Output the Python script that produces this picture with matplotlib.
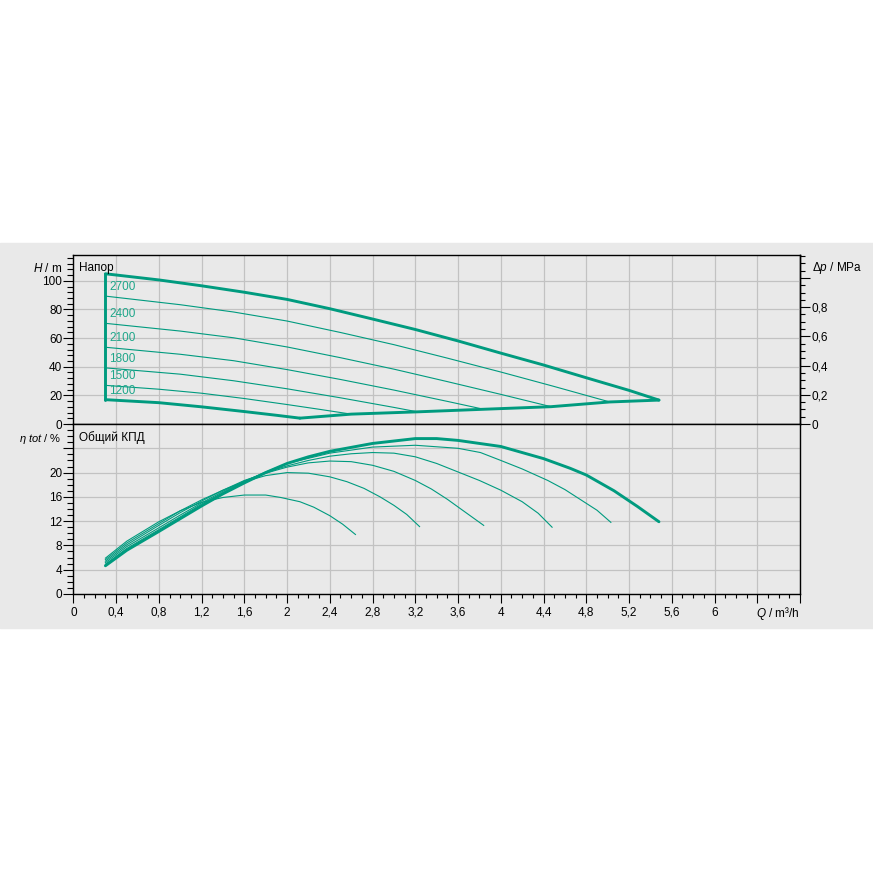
import matplotlib
matplotlib.use('Agg')
import matplotlib.pyplot as plt
from matplotlib import ticker
from matplotlib.patches import Rectangle

plt.rcParams['font.family'] = ['Liberation Sans', 'DejaVu Sans']
plt.rcParams['mathtext.fontset'] = 'custom'
plt.rcParams['mathtext.rm'] = 'Liberation Sans'
plt.rcParams['mathtext.it'] = 'Liberation Sans:italic'

TEAL = '#009b7f'
GRID = '#c2c2c2'
BG = '#e9e9e9'

# --- head curves (Q in m3/h, H in m) ---
q_max = [0.3, 0.8, 1.2, 1.6, 2.0, 2.4, 2.8, 3.2, 3.6, 4.0, 4.4, 4.8, 5.2, 5.48]
h_max = [104.9, 100.6, 96.5, 92.0, 87.0, 80.5, 73.3, 66.0, 58.0, 49.5, 41.2, 32.3, 23.5, 16.7]

speeds = ['2700', '2400', '2100', '1800', '1500']
q_2700 = [0.3, 1.0, 1.5, 2.0, 2.5, 3.0, 3.5, 4.0, 4.5, 5.02]
h_2700 = [89.3, 83.3, 78.2, 71.9, 63.9, 55.4, 46.0, 36.3, 26.2, 15.4]
q_2400 = [0.3, 1.0, 1.5, 2.0, 2.5, 3.0, 3.5, 4.0, 4.47]
h_2400 = [70.3, 64.9, 60.2, 53.8, 46.3, 38.3, 29.6, 20.7, 12.1]
q_2100 = [0.3, 1.0, 1.5, 2.0, 2.5, 3.0, 3.5, 3.84]
h_2100 = [53.6, 48.7, 44.2, 38.0, 31.1, 23.7, 15.8, 10.3]
q_1800 = [0.3, 1.0, 1.5, 2.0, 2.5, 3.0, 3.22]
h_1800 = [39.2, 34.8, 30.2, 24.6, 18.3, 11.6, 8.5]
q_1500 = [0.3, 0.8, 1.2, 1.6, 2.0, 2.3, 2.6]
h_1500 = [27.0, 24.3, 21.5, 17.8, 13.6, 10.3, 6.9]
q_1200 = [0.3, 0.8, 1.2, 1.6, 1.9, 2.12]
h_1200 = [17.0, 14.9, 12.0, 8.7, 6.1, 4.1]

# end-point boundary
q_end = [2.12, 2.6, 3.22, 3.84, 4.47, 5.02, 5.48]
h_end = [4.1, 6.9, 8.5, 10.3, 12.1, 15.4, 16.7]

# --- efficiency curves (eta in %) ---
qe_max = [0.3, 0.5, 0.8, 1.0, 1.2, 1.4, 1.6, 1.8, 2.0, 2.2, 2.4, 2.8, 3.2, 3.4, 3.6, 4.0, 4.4, 4.65, 4.8, 5.06, 5.28, 5.48]
e_max = [4.65, 7.2, 10.3, 12.4, 14.5, 16.5, 18.3, 20.0, 21.5, 22.6, 23.5, 24.8, 25.6, 25.6, 25.3, 24.3, 22.3, 20.7, 19.6, 17.0, 14.4, 11.9]
qe_2700 = [0.3, 0.5, 0.8, 1.0, 1.2, 1.4, 1.6, 1.8, 2.0, 2.4, 2.8, 3.2, 3.6, 3.81, 4.0, 4.2, 4.44, 4.6, 4.75, 4.9, 5.03]
e_2700 = [4.9, 7.5, 10.6, 12.7, 14.8, 16.7, 18.5, 20.1, 21.5, 23.2, 24.2, 24.5, 24.0, 23.3, 22.0, 20.6, 18.7, 17.2, 15.5, 13.8, 11.8]
qe_2400 = [0.3, 0.5, 0.8, 1.0, 1.2, 1.4, 1.6, 1.8, 2.0, 2.2, 2.4, 2.6, 2.8, 3.0, 3.2, 3.4, 3.6, 3.8, 4.0, 4.2, 4.35, 4.48]
e_2400 = [5.15, 7.8, 10.9, 13.0, 15.0, 16.9, 18.6, 20.0, 21.1, 22.0, 22.7, 23.1, 23.3, 23.2, 22.6, 21.5, 20.1, 18.7, 17.1, 15.2, 13.3, 11.0]
qe_2100 = [0.3, 0.5, 0.8, 1.0, 1.2, 1.4, 1.6, 1.8, 2.0, 2.2, 2.4, 2.6, 2.8, 3.0, 3.2, 3.35, 3.5, 3.65, 3.84]
e_2100 = [5.4, 8.1, 11.3, 13.4, 15.3, 17.1, 18.7, 19.9, 20.9, 21.6, 21.9, 21.8, 21.2, 20.2, 18.7, 17.3, 15.6, 13.7, 11.3]
qe_1800 = [0.3, 0.5, 0.8, 1.0, 1.2, 1.4, 1.6, 1.8, 2.0, 2.2, 2.4, 2.56, 2.72, 2.87, 3.0, 3.12, 3.24]
e_1800 = [5.65, 8.4, 11.6, 13.7, 15.5, 17.1, 18.5, 19.5, 20.0, 19.9, 19.3, 18.5, 17.4, 16.0, 14.6, 13.1, 11.1]
qe_1500 = [0.3, 0.5, 0.8, 1.0, 1.2, 1.4, 1.6, 1.8, 1.94, 2.12, 2.25, 2.4, 2.52, 2.64]
e_1500 = [5.9, 8.7, 11.9, 13.7, 15.1, 15.9, 16.3, 16.3, 15.9, 15.2, 14.3, 12.9, 11.5, 9.8]

x_ticks = [0, 0.4, 0.8, 1.2, 1.6, 2, 2.4, 2.8, 3.2, 3.6, 4, 4.4, 4.8, 5.2, 5.6, 6, 6.4, 6.8]
x_labels = ['0', '0,4', '0,8', '1,2', '1,6', '2', '2,4', '2,8', '3,2', '3,6', '4', '4,4',
            '4,8', '5,2', '5,6', '6', '', '']
h_ticks = [0, 20, 40, 60, 80, 100]
e_ticks = [0, 4, 8, 12, 16, 20, 24]
e_labels = ['0', '4', '8', '12', '16', '20', '']
p_ticks = [0, 0.2, 0.4, 0.6, 0.8, 1.0]
p_labels = ['0', '0,2', '0,4', '0,6', '0,8', '']

fig = plt.figure(figsize=(8.73, 8.73), dpi=100)
fig.patches.append(Rectangle((0, 0.2806), 1, 0.441, transform=fig.transFigure,
                             color=BG, zorder=-10))

ax_h = fig.add_axes([0.084, 0.5143, 0.8324, 0.1936])
ax_e = fig.add_axes([0.084, 0.3196, 0.8324, 0.1947])

for ax in (ax_h, ax_e):
    ax.set_facecolor(BG)
    ax.set_xlim(0, 6.8)
    ax.set_xticks(x_ticks)
    ax.xaxis.set_minor_locator(ticker.MultipleLocator(0.1))
    ax.grid(True, which='major', color=GRID, lw=0.9)
    ax.set_axisbelow(True)
    for s in ax.spines.values():
        s.set_linewidth(1.0)
        s.set_color('black')
    ax.tick_params(axis='y', which='major', length=7, width=0.8, pad=1, labelsize=8.5)
    ax.tick_params(axis='y', which='minor', length=4, width=0.8)

# upper chart
ax_h.set_ylim(0, 118)
ax_h.set_yticks(h_ticks)
ax_h.yaxis.set_minor_locator(ticker.MultipleLocator(4))
ax_h.tick_params(axis='x', which='both', length=0, labelbottom=False)

thin = dict(color=TEAL, lw=0.8, solid_joinstyle='round', zorder=3)
thick = dict(color=TEAL, lw=2.1, solid_joinstyle='round', solid_capstyle='round', zorder=4)

ax_h.plot(q_2700, h_2700, **thin)
ax_h.plot(q_2400, h_2400, **thin)
ax_h.plot(q_2100, h_2100, **thin)
ax_h.plot(q_1800, h_1800, **thin)
ax_h.plot(q_1500, h_1500, **thin)
ax_h.plot(q_max, h_max, **thick)
ax_h.plot(q_1200, h_1200, **thick)
ax_h.plot(q_end, h_end, **thick)
ax_h.plot([q_max[0], q_1200[0]], [h_max[0], h_1200[0]], **thick)

for lab, hs in zip(speeds + ['1200'], [h_2700, h_2400, h_2100, h_1800, h_1500, h_1200]):
    ax_h.text(0.335, hs[0] + 6.3, lab, color='#1ea68a', fontsize=8.5, va='center', ha='left')

ax_p = ax_h.secondary_yaxis('right', functions=(lambda h: h / 101.97, lambda p: p * 101.97))
ax_p.set_yticks(p_ticks)
ax_p.set_yticklabels(p_labels)
ax_p.yaxis.set_minor_locator(ticker.MultipleLocator(0.05))
ax_p.tick_params(axis='y', which='major', length=7, width=0.8, pad=1.5, labelsize=8.5)
ax_p.tick_params(axis='y', which='minor', length=3.5, width=0.8)
ax_p.spines['right'].set_linewidth(1.0)

# lower chart
ax_e.set_ylim(0, 28)
ax_e.set_yticks(e_ticks)
ax_e.set_yticklabels(e_labels)
ax_e.yaxis.set_minor_locator(ticker.MultipleLocator(1))
ax_e.set_xticklabels(x_labels)
ax_e.tick_params(axis='x', which='major', direction='out', length=6.3, width=0.8, pad=3, labelsize=8.5)
ax_e.tick_params(axis='x', which='minor', direction='out', length=3.2, width=0.8)

ax_e.plot(qe_1500, e_1500, **thin)
ax_e.plot(qe_1800, e_1800, **thin)
ax_e.plot(qe_2100, e_2100, **thin)
ax_e.plot(qe_2400, e_2400, **thin)
ax_e.plot(qe_2700, e_2700, **thin)
ax_e.plot(qe_max, e_max, **thick)

# axis titles
fig.text(0.0714, 0.693, r'$\mathit{H}$ / m', ha='right', va='center', fontsize=8.5)
fig.text(0.9298, 0.693, r'$\mathit{\Delta p}$ / MPa', ha='left', va='center', fontsize=8.5)
fig.text(0.0707, 0.4972, r'$\mathit{\eta\ tot}$ / %', ha='right', va='center', fontsize=8)
fig.text(0.9156, 0.2978, r'$\mathit{Q}$ / m³/h', ha='right', va='center', fontsize=8.5)
fig.text(0.0905, 0.693, 'Напор', ha='left', va='center', fontsize=8.5)
fig.text(0.0905, 0.4985, 'Общий КПД', ha='left', va='center', fontsize=8.5)

fig.savefig('out.png', dpi=100)
